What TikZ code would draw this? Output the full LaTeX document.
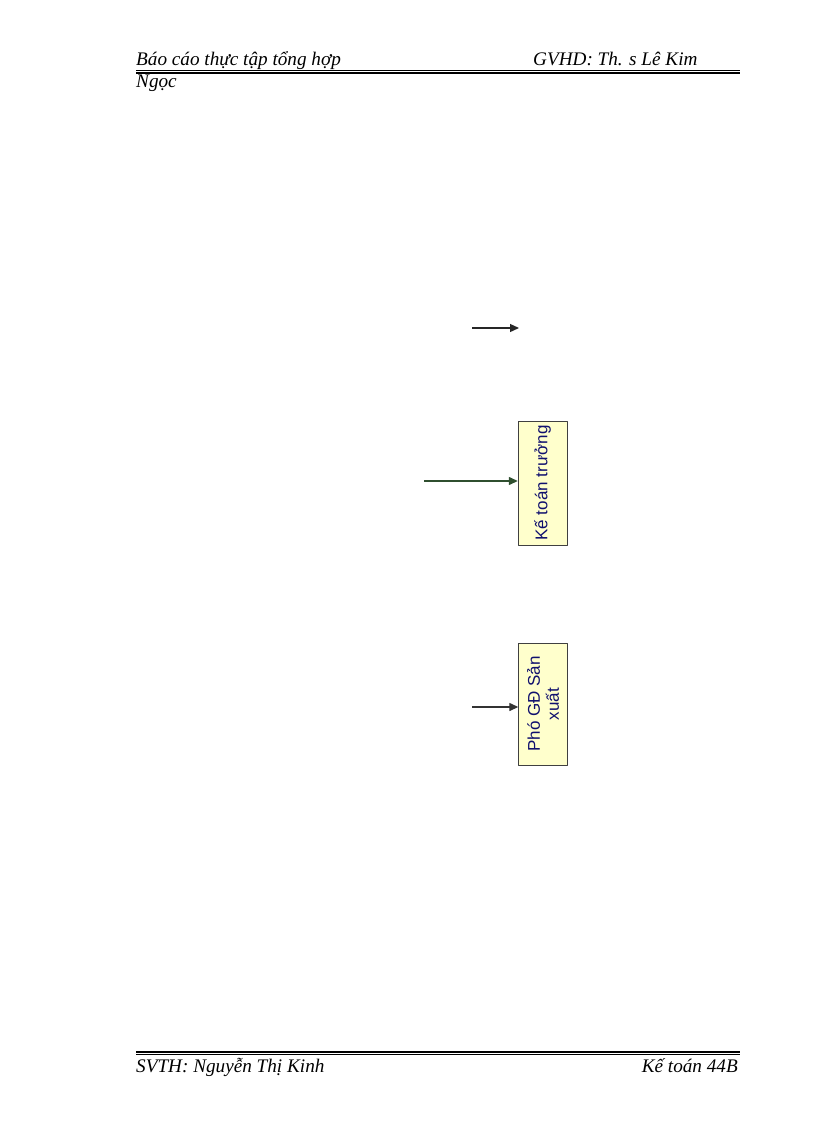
\documentclass[tikz,border=0pt]{standalone}
\usepackage{fontspec}
\setmainfont{Liberation Serif}
\setsansfont{Liberation Sans}
\usetikzlibrary{positioning,arrows.meta}
\definecolor{boxfill}{HTML}{FFFFCC}
\definecolor{boxtext}{HTML}{10106E}
\definecolor{arrowgreen}{HTML}{2F4F2F}
\begin{document}
\begin{tikzpicture}[x=1pt, y=-1pt, >={Triangle[length=9pt,width=8pt]}, line join=round,
	head/.style={font=\fontsize{19.2}{22}\selectfont\itshape, inner sep=0pt, anchor=base west},
	unit/.style={draw=black!75, fill=boxfill, minimum width=49pt, minimum height=124pt, inner sep=0pt},
	unittext/.style={font=\sffamily\fontsize{17}{19}\selectfont, text=boxtext, rotate=90, align=center},
	link/.style={->, line width=1.3pt}]
	\useasboundingbox (0,0) rectangle (816,1123);
	% header
	\node[head] (title) at (136,66) {Báo cáo thực tập tổng hợp};
	\node[head] (gvhd) at (533,66) {GVHD: Th. s Lê Kim};
	\node[head] (gvhd2) at (136,88) {Ngọc};
	\draw[line width=0.8pt] (136,70.5) -- (740,70.5);
	\draw[line width=2pt] (136,73.5) -- (740,73.5);
	% boxes
	\node[unit] (ktt) at (542.5,483) {};
	\node[unittext] at (ktt.center) {Kế toán trưởng};
	\node[unit, minimum height=122pt] (pgd) at (543,704) {};
	\node[unittext] at (pgd.center) {Phó GĐ Sản\\xuất};
	% arrows
	\coordinate (a1) at (472,328);
	\coordinate (b1) at (519,328);
	\coordinate (a2) at (424,481);
	\coordinate (a3) at (472,707);
	\draw[link, black!85] (a1) -- (b1);
	\draw[link, arrowgreen] (a2) -- (a2 -| ktt.west);
	\draw[link, black!80] (a3) -- (a3 -| pgd.west);
	% footer
	\draw[line width=2pt] (136,1051.5) -- (740,1051.5);
	\draw[line width=0.8pt] (136,1054.5) -- (740,1054.5);
	\node[head] (svth) at (136,1072) {SVTH: Nguyễn Thị Kinh};
	\node[head, anchor=base east] (lop) at (738,1072) {Kế toán 44B};
\end{tikzpicture}
\end{document}
